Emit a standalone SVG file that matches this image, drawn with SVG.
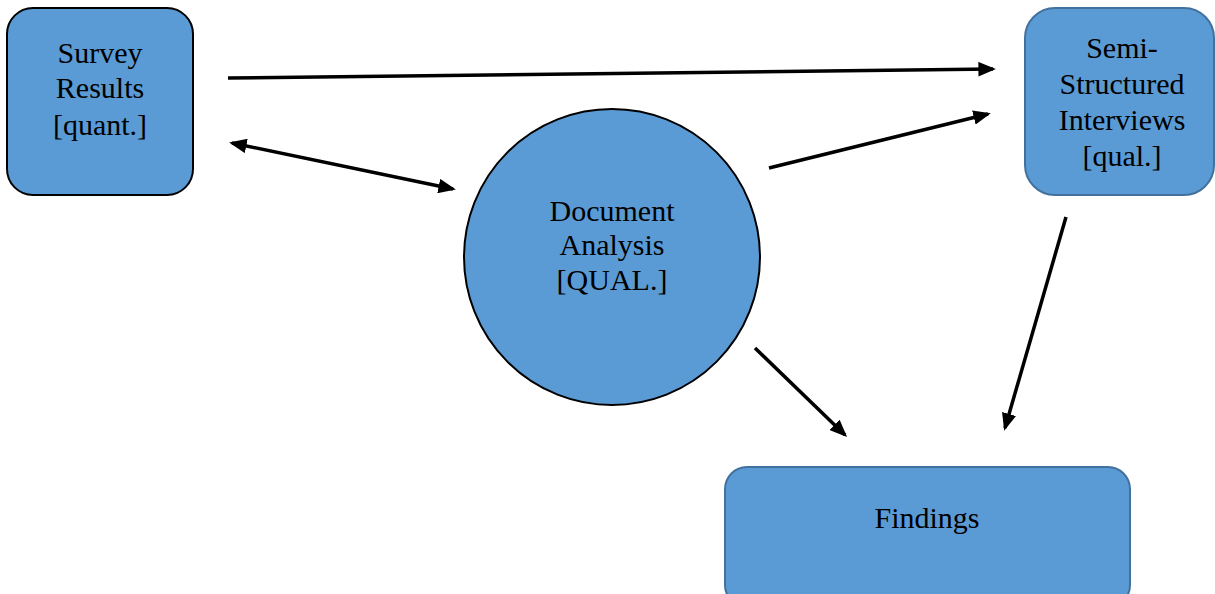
<svg xmlns="http://www.w3.org/2000/svg" width="1215" height="594" viewBox="0 0 1215 594">
<style>
.n{fill:#5B9BD5}
.t{font-family:"Liberation Serif",serif;font-size:30px;fill:#000;text-anchor:middle}
.c{stroke:#000;stroke-width:3.5;fill:none}
</style>
<defs>
<marker id="ah" viewBox="0 0 12 10" refX="10" refY="5" markerWidth="5" markerHeight="4.2" orient="auto-start-reverse" markerUnits="strokeWidth">
<path d="M0,0 L12,5 L0,10 z" fill="#000"/>
</marker>
</defs>
<rect width="1215" height="594" fill="#fff"/>
<g id="survey">
<rect class="n" x="7" y="8" width="186" height="187" rx="26" stroke="#000" stroke-width="2"/>
<text class="t" x="100" y="63">Survey</text>
<text class="t" x="100" y="98">Results</text>
<text class="t" x="100" y="135">[quant.]</text>
</g>
<g id="semi">
<rect class="n" x="1025" y="8" width="189" height="187" rx="30" stroke="#41719C" stroke-width="2"/>
<text class="t" x="1122" y="58">Semi-</text>
<text class="t" x="1122" y="94">Structured</text>
<text class="t" x="1122" y="130">Interviews</text>
<text class="t" x="1122" y="166">[qual.]</text>
</g>
<g id="doc">
<circle class="n" cx="612" cy="257" r="148" stroke="#000" stroke-width="2"/>
<text class="t" x="612" y="221">Document</text>
<text class="t" x="612" y="255">Analysis</text>
<text class="t" x="612" y="290">[QUAL.]</text>
</g>
<g id="findings">
<rect class="n" x="725" y="467" width="405" height="140" rx="22" stroke="#41719C" stroke-width="2"/>
<text class="t" x="927" y="528">Findings</text>
</g>
<g id="connectors">
<line class="c" x1="228" y1="78" x2="993" y2="69" marker-end="url(#ah)"/>
<line class="c" x1="232" y1="143" x2="453" y2="189" marker-start="url(#ah)" marker-end="url(#ah)"/>
<line class="c" x1="769" y1="168" x2="988" y2="114" marker-end="url(#ah)"/>
<line class="c" x1="755" y1="348" x2="845" y2="435" marker-end="url(#ah)"/>
<line class="c" x1="1066" y1="217" x2="1005" y2="428" marker-end="url(#ah)"/>
</g>
</svg>
